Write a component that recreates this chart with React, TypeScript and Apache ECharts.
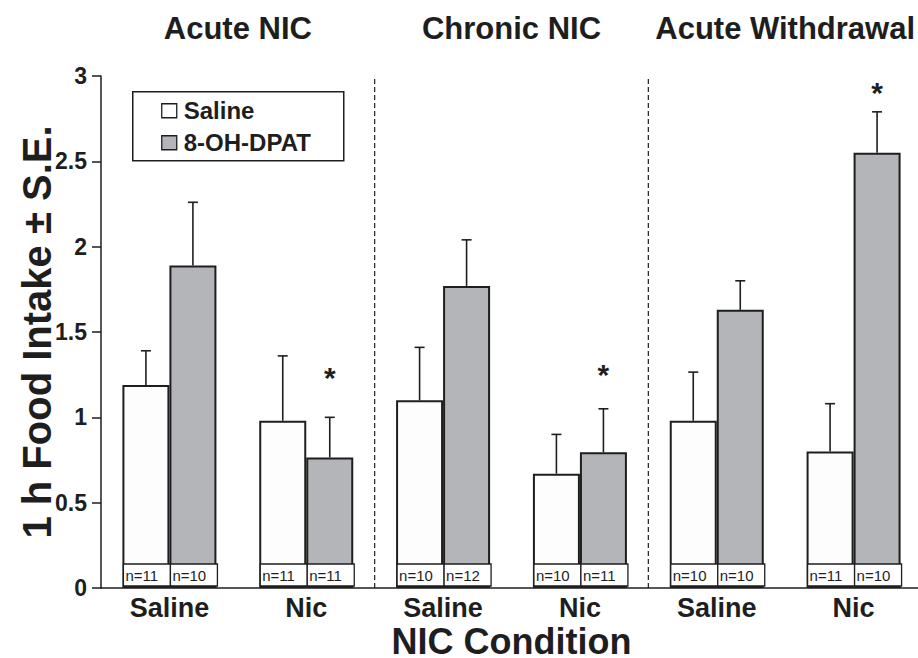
import React, { useEffect, useRef } from 'react';
import * as echarts from 'echarts';

const categories = ['Saline', 'Nic', 'Saline', 'Nic', 'Saline', 'Nic'];
const panelTitles = ['Acute NIC', 'Chronic NIC', 'Acute Withdrawal'];
const seriesNames = ['Saline', '8-OH-DPAT'];
const salineMean = [1.19, 0.98, 1.1, 0.67, 0.98, 0.8];
const salineSE = [0.2, 0.38, 0.31, 0.23, 0.285, 0.28];
const dpatMean = [1.89, 0.765, 1.77, 0.795, 1.63, 2.55];
const dpatSE = [0.37, 0.235, 0.27, 0.255, 0.17, 0.24];
const salineN = [11, 11, 10, 10, 10, 11];
const dpatN = [10, 11, 12, 11, 10, 10];
const starLevel = [null, 1.28, null, 1.3, null, 2.95];
const separatorsAfter = [1, 3];
const yMin = 0;
const yMax = 3;
const yStep = 0.5;

const FONT = '"Liberation Sans", Arial, Helvetica, sans-serif';
const INK = '#1e1e1e';
const GRAY = '#b4b5b9';
const WHITE = '#fdfdfd';
const BAR_W = 47;

export default function App() {
  const ref = useRef<HTMLDivElement>(null);
  useEffect(() => {
    document.body.style.margin = '0';
    if (!ref.current) return;
    const chart = echarts.init(ref.current, undefined, { renderer: 'svg' });

    const errRender = (sign: number) => (params: any, api: any) => {
      const i = api.value(0);
      const base = api.coord([i, api.value(1)]);
      const top = api.coord([i, api.value(2)]);
      const x = base[0] + (sign * BAR_W) / 2;
      return {
        type: 'group',
        children: [
          { type: 'line', shape: { x1: x, y1: base[1], x2: x, y2: top[1] }, style: { stroke: INK, lineWidth: 1.6 } },
          { type: 'line', shape: { x1: x - 5, y1: top[1], x2: x + 5, y2: top[1] }, style: { stroke: INK, lineWidth: 1.6 } },
        ],
      };
    };

    const nRender = (sign: number) => (params: any, api: any) => {
      const i = api.value(0);
      const n = api.value(1);
      const base = api.coord([i, 0]);
      const x0 = base[0] + (sign < 0 ? -BAR_W : 0) + 1;
      return {
        type: 'group',
        children: [
          {
            type: 'rect',
            shape: { x: x0, y: base[1] - 24, width: BAR_W, height: 22 },
            style: { fill: '#ffffff', stroke: INK, lineWidth: 1.3 },
          },
          {
            type: 'text',
            style: {
              text: 'n=' + n,
              x: x0 + 2,
              y: base[1] - 13,
              align: 'left',
              verticalAlign: 'middle',
              font: `15px ${FONT}`,
              fill: INK,
            },
          },
        ],
      };
    };

    const option: any = {
      animation: false,
      backgroundColor: '#ffffff',
      grid: { left: 101, right: -4, top: 76, bottom: 70, containLabel: false, outerBoundsMode: 'none' },
      xAxis: {
        type: 'category',
        data: categories,
        axisLine: { show: true, lineStyle: { color: INK, width: 1.5 } },
        axisTick: { show: false },
        axisLabel: { color: INK, fontFamily: FONT, fontWeight: 'bold', fontSize: 27, lineHeight: 27, margin: 6 },
        name: 'NIC Condition',
        nameLocation: 'middle',
        nameGap: 37,
        nameMoveOverlap: false,
        nameTextStyle: { color: INK, fontFamily: FONT, fontWeight: 'bold', fontSize: 36, lineHeight: 32 },
      },
      yAxis: {
        type: 'value',
        min: yMin,
        max: yMax,
        interval: yStep,
        splitLine: { show: false },
        axisLine: { show: true, lineStyle: { color: INK, width: 1.5 } },
        axisTick: { show: true, length: 9, inside: false, lineStyle: { color: INK, width: 1.5 } },
        axisLabel: { color: INK, fontFamily: FONT, fontWeight: 'bold', fontSize: 23, margin: 14 },
        name: '1 h Food Intake ± S.E.',
        nameLocation: 'middle',
        nameGap: 44,
        nameMoveOverlap: false,
        nameRotate: 90,
        nameTextStyle: { color: INK, fontFamily: FONT, fontWeight: 'bold', fontSize: 40 },
      },
      series: [
        {
          name: seriesNames[0],
          type: 'bar',
          data: salineMean,
          barWidth: BAR_W,
          barGap: '0%',
          itemStyle: { color: WHITE, borderColor: INK, borderWidth: 2 },
          z: 2,
        },
        {
          name: seriesNames[1],
          type: 'bar',
          data: dpatMean,
          barWidth: BAR_W,
          barGap: '0%',
          itemStyle: { color: GRAY, borderColor: INK, borderWidth: 2 },
          z: 2,
        },
        {
          type: 'custom',
          renderItem: errRender(-1),
          data: categories.map((_, i) => [i, salineMean[i], salineMean[i] + salineSE[i]]),
          z: 3,
          silent: true,
        },
        {
          type: 'custom',
          renderItem: errRender(1),
          data: categories.map((_, i) => [i, dpatMean[i], dpatMean[i] + dpatSE[i]]),
          z: 3,
          silent: true,
        },
        {
          type: 'custom',
          renderItem: nRender(-1),
          data: categories.map((_, i) => [i, salineN[i]]),
          encode: { x: 0 },
          z: 4,
          silent: true,
        },
        {
          type: 'custom',
          renderItem: nRender(1),
          data: categories.map((_, i) => [i, dpatN[i]]),
          encode: { x: 0 },
          z: 4,
          silent: true,
        },
        {
          type: 'custom',
          renderItem: (params: any, api: any) => {
            const p = api.coord([api.value(0), api.value(1)]);
            return {
              type: 'text',
              style: {
                text: '*',
                x: p[0] + BAR_W / 2,
                y: p[1] + 8,
                align: 'center',
                verticalAlign: 'middle',
                font: `bold 30px ${FONT}`,
                fill: INK,
              },
            };
          },
          data: starLevel
            .map((v, i) => (v == null ? null : [i, v]))
            .filter((d) => d !== null),
          z: 4,
          silent: true,
        },
        {
          type: 'custom',
          renderItem: (params: any, api: any) => {
            const i = api.value(0);
            const half = api.size([1, 0])[0] / 2;
            const b = api.coord([i, yMin]);
            const t = api.coord([i, yMax]);
            const x = b[0] + half;
            return {
              type: 'line',
              shape: { x1: x, y1: b[1], x2: x, y2: t[1] },
              style: { stroke: INK, lineWidth: 1.2, lineDash: [5, 3] },
            };
          },
          data: separatorsAfter.map((i) => [i, yMin]),
          z: 1,
          silent: true,
        },
        {
          type: 'custom',
          renderItem: (params: any, api: any) => {
            const i = api.value(0);
            const half = api.size([1, 0])[0] / 2;
            const b = api.coord([i, yMin]);
            return {
              type: 'text',
              style: {
                text: panelTitles[params.dataIndex],
                x: b[0] + half,
                y: 28,
                align: 'center',
                verticalAlign: 'middle',
                font: `bold 31px ${FONT}`,
                fill: INK,
              },
            };
          },
          data: panelTitles.map((_, k) => [k * 2, yMin]),
          clip: false,
          z: 4,
          silent: true,
        },
      ],
      graphic: [
        {
          type: 'group',
          left: 132,
          top: 91,
          children: [
            { type: 'rect', shape: { x: 0, y: 0, width: 211, height: 69 }, style: { fill: '#ffffff', stroke: INK, lineWidth: 1.5 } },
            { type: 'rect', shape: { x: 29, y: 12, width: 15, height: 14 }, style: { fill: '#ffffff', stroke: INK, lineWidth: 1.3 } },
            {
              type: 'text',
              style: { text: seriesNames[0], x: 51, y: 19, verticalAlign: 'middle', font: `bold 24px ${FONT}`, fill: INK },
            },
            { type: 'rect', shape: { x: 29, y: 44, width: 15, height: 14 }, style: { fill: GRAY, stroke: INK, lineWidth: 1.3 } },
            {
              type: 'text',
              style: { text: seriesNames[1], x: 51, y: 51, verticalAlign: 'middle', font: `bold 24px ${FONT}`, fill: INK },
            },
          ],
        },
      ],
    };
    chart.setOption(option);
    return () => chart.dispose();
  }, []);
  return <div ref={ref} style={{ width: 918, height: 658 }} />;
}
